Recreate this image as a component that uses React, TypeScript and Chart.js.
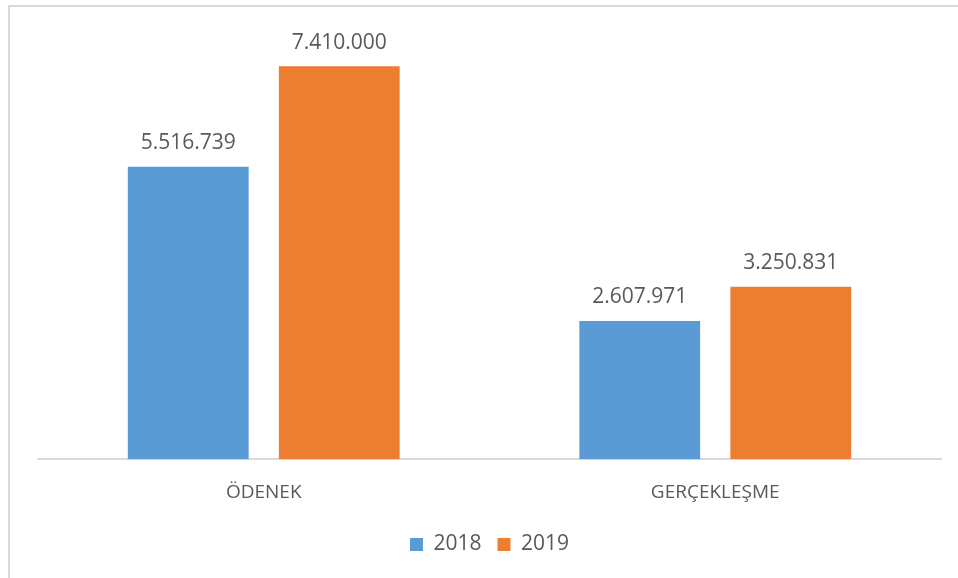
import React, { useEffect, useRef } from "react";
import { Chart, registerables } from "chart.js";

Chart.register(...registerables);

const categories = ["ÖDENEK", "GERÇEKLEŞME"];
const seriesNames = ["2018", "2019"];
const values2018 = [5516739, 2607971];
const values2019 = [7410000, 3250831];
const colors = ["#5B9BD5", "#ED7D31"];

const FONT = "'Open Sans', 'Liberation Sans', sans-serif";

const fmt = (v: number) => String(Math.round(v)).replace(/\B(?=(\d{3})+(?!\d))/g, ".");

const labelPlugin = {
  id: "valueLabels",
  afterDatasetsDraw(chart: any) {
    const ctx = chart.ctx;
    ctx.save();
    ctx.font = `21px ${FONT}`;
    ctx.fillStyle = "#595959";
    ctx.textAlign = "center";
    ctx.textBaseline = "bottom";
    chart.data.datasets.forEach((ds: any, i: number) => {
      const meta = chart.getDatasetMeta(i);
      meta.data.forEach((bar: any, j: number) => {
        ctx.fillText(fmt(ds.data[j]), bar.x, bar.y - 13);
      });
    });
    ctx.restore();
  },
};

export default function App() {
  const ref = useRef<HTMLCanvasElement>(null);
  useEffect(() => {
    if (!ref.current) return;
    const chart = new Chart(ref.current, {
      type: "bar",
      data: {
        labels: categories,
        datasets: [
          { label: seriesNames[0], data: values2018, backgroundColor: colors[0] },
          { label: seriesNames[1], data: values2019, backgroundColor: colors[1] },
        ],
      },
      options: {
        animation: false,
        responsive: false,
        layout: { padding: { left: 38, right: 17, top: 35, bottom: 13 } },
        datasets: { bar: { categoryPercentage: 0.669, barPercentage: 0.8 } } as any,
        scales: {
          x: {
            grid: { display: false },
            border: { color: "#D9D9D9", width: 2 },
            ticks: { color: "#595959", font: { family: FONT, size: 19 }, padding: 14 },
          },
          y: {
            display: false,
            min: 0,
            max: 8000000,
          },
        },
        plugins: {
          legend: {
            position: "bottom",
            labels: {
              color: "#595959",
              font: { family: FONT, size: 21 },
              boxWidth: 13,
              boxHeight: 13,
              padding: 16,
            },
          },
          tooltip: { enabled: false },
        },
      },
      plugins: [labelPlugin],
    });
    return () => chart.destroy();
  }, []);
  return (
    <div style={{ position: "fixed", left: 0, top: 0, width: 958, height: 578, background: "#fff", overflow: "hidden" }}>
      <div
        style={{
          position: "absolute",
          left: 8,
          top: 5,
          width: 1000,
          height: 1000,
          borderLeft: "2px solid #D9D9D9",
          borderTop: "2px solid #D9D9D9",
        }}
      />
      <canvas ref={ref} width={958} height={578} style={{ position: "absolute", left: 0, top: 0 }} />
    </div>
  );
}
